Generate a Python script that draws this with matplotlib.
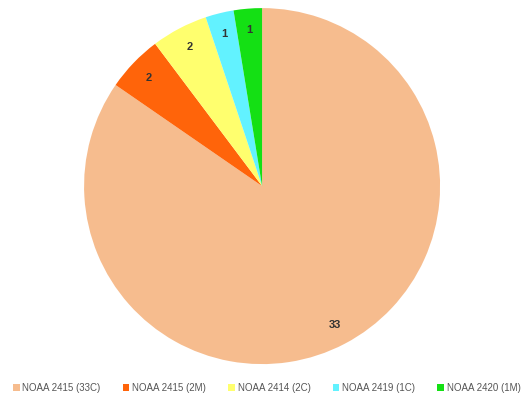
import matplotlib
matplotlib.use("Agg")
import matplotlib.pyplot as plt

labels = ["NOAA 2415 (33C)", "NOAA 2415 (2M)", "NOAA 2414 (2C)", "NOAA 2419 (1C)", "NOAA 2420 (1M)"]
counts = [33, 2, 2, 1, 1]
colors = ["#F6BC8E", "#FF640A", "#FFFF6E", "#62F2FF", "#14E014"]

total = sum(counts)

fig = plt.figure(figsize=(5.23, 4.05), dpi=100)
ax = fig.add_axes([0.1606, 0.101, 0.681, 0.879])

wedges, texts, autotexts = ax.pie(
    counts, colors=colors, startangle=90, counterclock=False,
    autopct=lambda p: f"{p * total / 100:.0f}", pctdistance=0.88,
    textprops=dict(fontsize=8, fontweight="bold", color="#333333", family="Liberation Sans"),
)
ax.set_xlim(-1, 1)
ax.set_ylim(-1, 1)
ax.set_aspect("equal")

fig.legend(wedges, labels, loc="center", bbox_to_anchor=(0.51, 0.042), ncol=5,
           frameon=False, handlelength=0.7, handleheight=0.7,
           handletextpad=0.3, columnspacing=2.25,
           prop=dict(family="Liberation Sans", size=7))
for t in fig.legends[0].get_texts():
    t.set_color("#555555")

fig.savefig("out.png", dpi=100)
